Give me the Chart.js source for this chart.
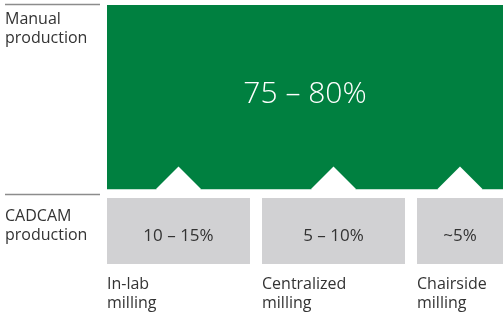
<!DOCTYPE html>
<html>
<head>
<meta charset="utf-8">
<script src="https://cdn.jsdelivr.net/npm/chart.js@4.4.1/dist/chart.umd.min.js"></script>
<style>
    html, body { margin: 0; padding: 0; background: #fff; }
    #wrap { width: 503px; height: 316px; position: relative; }
</style>
</head>
<body>
<div id="wrap"><canvas id="grafico"></canvas></div>
<script>
const grupos = ['Manual production', 'CADCAM production'];
const metodos = ['In-lab milling', 'Centralized milling', 'Chairside milling'];
const cuotaManual = '75 – 80%';
const cuotasCadcam = ['10 – 15%', '5 – 10%', '~5%'];

// bandas en una escala 0-100 del alto del area, columnas en unidades de indice
const bandaCadcam = [0, 25.5];
const bandaManual = [29, 100];
const anchoColumna = 0.9226;
const xMin = -0.4613;
const xMax = 2.0935;

const verde = '#008040';
const gris = '#d1d1d3';
const colorTexto = '#333333';
const fuente = '"Open Sans", sans-serif';

function centroVisible(i) {
    const a = i - anchoColumna / 2;
    const b = Math.min(i + anchoColumna / 2, xMax);
    return (a + b) / 2;
}

const etiquetas = {
    id: 'etiquetas',
    afterDraw(chart) {
        const { ctx, chartArea, scales: { x, y } } = chart;
        ctx.save();

        // reglas y nombres de grupo a la izquierda
        const topes = [y.getPixelForValue(bandaManual[1]), y.getPixelForValue(bandaCadcam[1])];
        const reglas = [topes[0] - 0.5, topes[1] - 3.5];
        ctx.strokeStyle = '#8c8c8c';
        ctx.lineWidth = 1.5;
        ctx.fillStyle = colorTexto;
        ctx.font = '16px ' + fuente;
        ctx.textAlign = 'left';
        ctx.textBaseline = 'alphabetic';
        grupos.forEach((g, i) => {
            ctx.beginPath();
            ctx.moveTo(5, reglas[i]);
            ctx.lineTo(chartArea.left - 7, reglas[i]);
            ctx.stroke();
            const base = topes[i] + (i === 0 ? 19 : 23);
            g.split(' ').forEach((linea, k) => ctx.fillText(linea, 5, base + k * 19));
        });

        // cuota manual
        ctx.fillStyle = '#fff';
        ctx.font = '300 30px ' + fuente;
        ctx.textAlign = 'center';
        const yVerde = (y.getPixelForValue(bandaManual[0]) + y.getPixelForValue(bandaManual[1])) / 2;
        ctx.fillText(cuotaManual, (chartArea.left + chartArea.right) / 2, yVerde + 6);

        // cuotas cadcam
        ctx.fillStyle = colorTexto;
        ctx.font = '17px ' + fuente;
        const yGris = (y.getPixelForValue(bandaCadcam[0]) + y.getPixelForValue(bandaCadcam[1])) / 2;
        cuotasCadcam.forEach((c, i) => {
            ctx.fillText(c, x.getPixelForValue(centroVisible(i)), yGris + 10);
        });

        // metodos debajo
        ctx.font = '16px ' + fuente;
        ctx.textAlign = 'left';
        const yBase = y.getPixelForValue(bandaCadcam[0]) + 25;
        metodos.forEach((m, i) => {
            const izq = x.getPixelForValue(i - anchoColumna / 2);
            m.split(' ').forEach((linea, k) => ctx.fillText(linea, izq, yBase + k * 19));
        });

        ctx.restore();
    }
};

new Chart(document.getElementById('grafico'), {
    type: 'bar',
    data: {
        datasets: [
            {
                label: grupos[0],
                data: [{ x: 1, y: bandaManual }],
                backgroundColor: verde,
                barThickness: 2000,
                grouped: false,
                clip: 0,
                order: 3
            },
            {
                type: 'scatter',
                label: 'flechas',
                data: metodos.map((m, i) => ({ x: centroVisible(i), y: bandaManual[0] })),
                pointStyle: 'rectRot',
                pointRadius: 22.5,
                backgroundColor: '#fff',
                borderWidth: 0,
                order: 2
            },
            {
                label: grupos[1],
                data: metodos.map((m, i) => ({ x: i, y: bandaCadcam })),
                backgroundColor: gris,
                barPercentage: anchoColumna,
                categoryPercentage: 1,
                grouped: false,
                clip: 0,
                order: 1
            }
        ]
    },
    options: {
        responsive: true,
        maintainAspectRatio: false,
        animation: false,
        events: [],
        layout: { autoPadding: false, padding: { left: 107, top: 5, right: 0, bottom: 52 } },
        plugins: { legend: { display: false }, tooltip: { enabled: false } },
        scales: {
            x: {
                type: 'linear',
                min: xMin,
                max: xMax,
                offset: false,
                display: false,
                afterBuildTicks: s => { s.ticks = metodos.map((m, i) => ({ value: i })); }
            },
            y: { type: 'linear', min: 0, max: 100, display: false }
        }
    },
    plugins: [etiquetas]
});
</script>
</body>
</html>
